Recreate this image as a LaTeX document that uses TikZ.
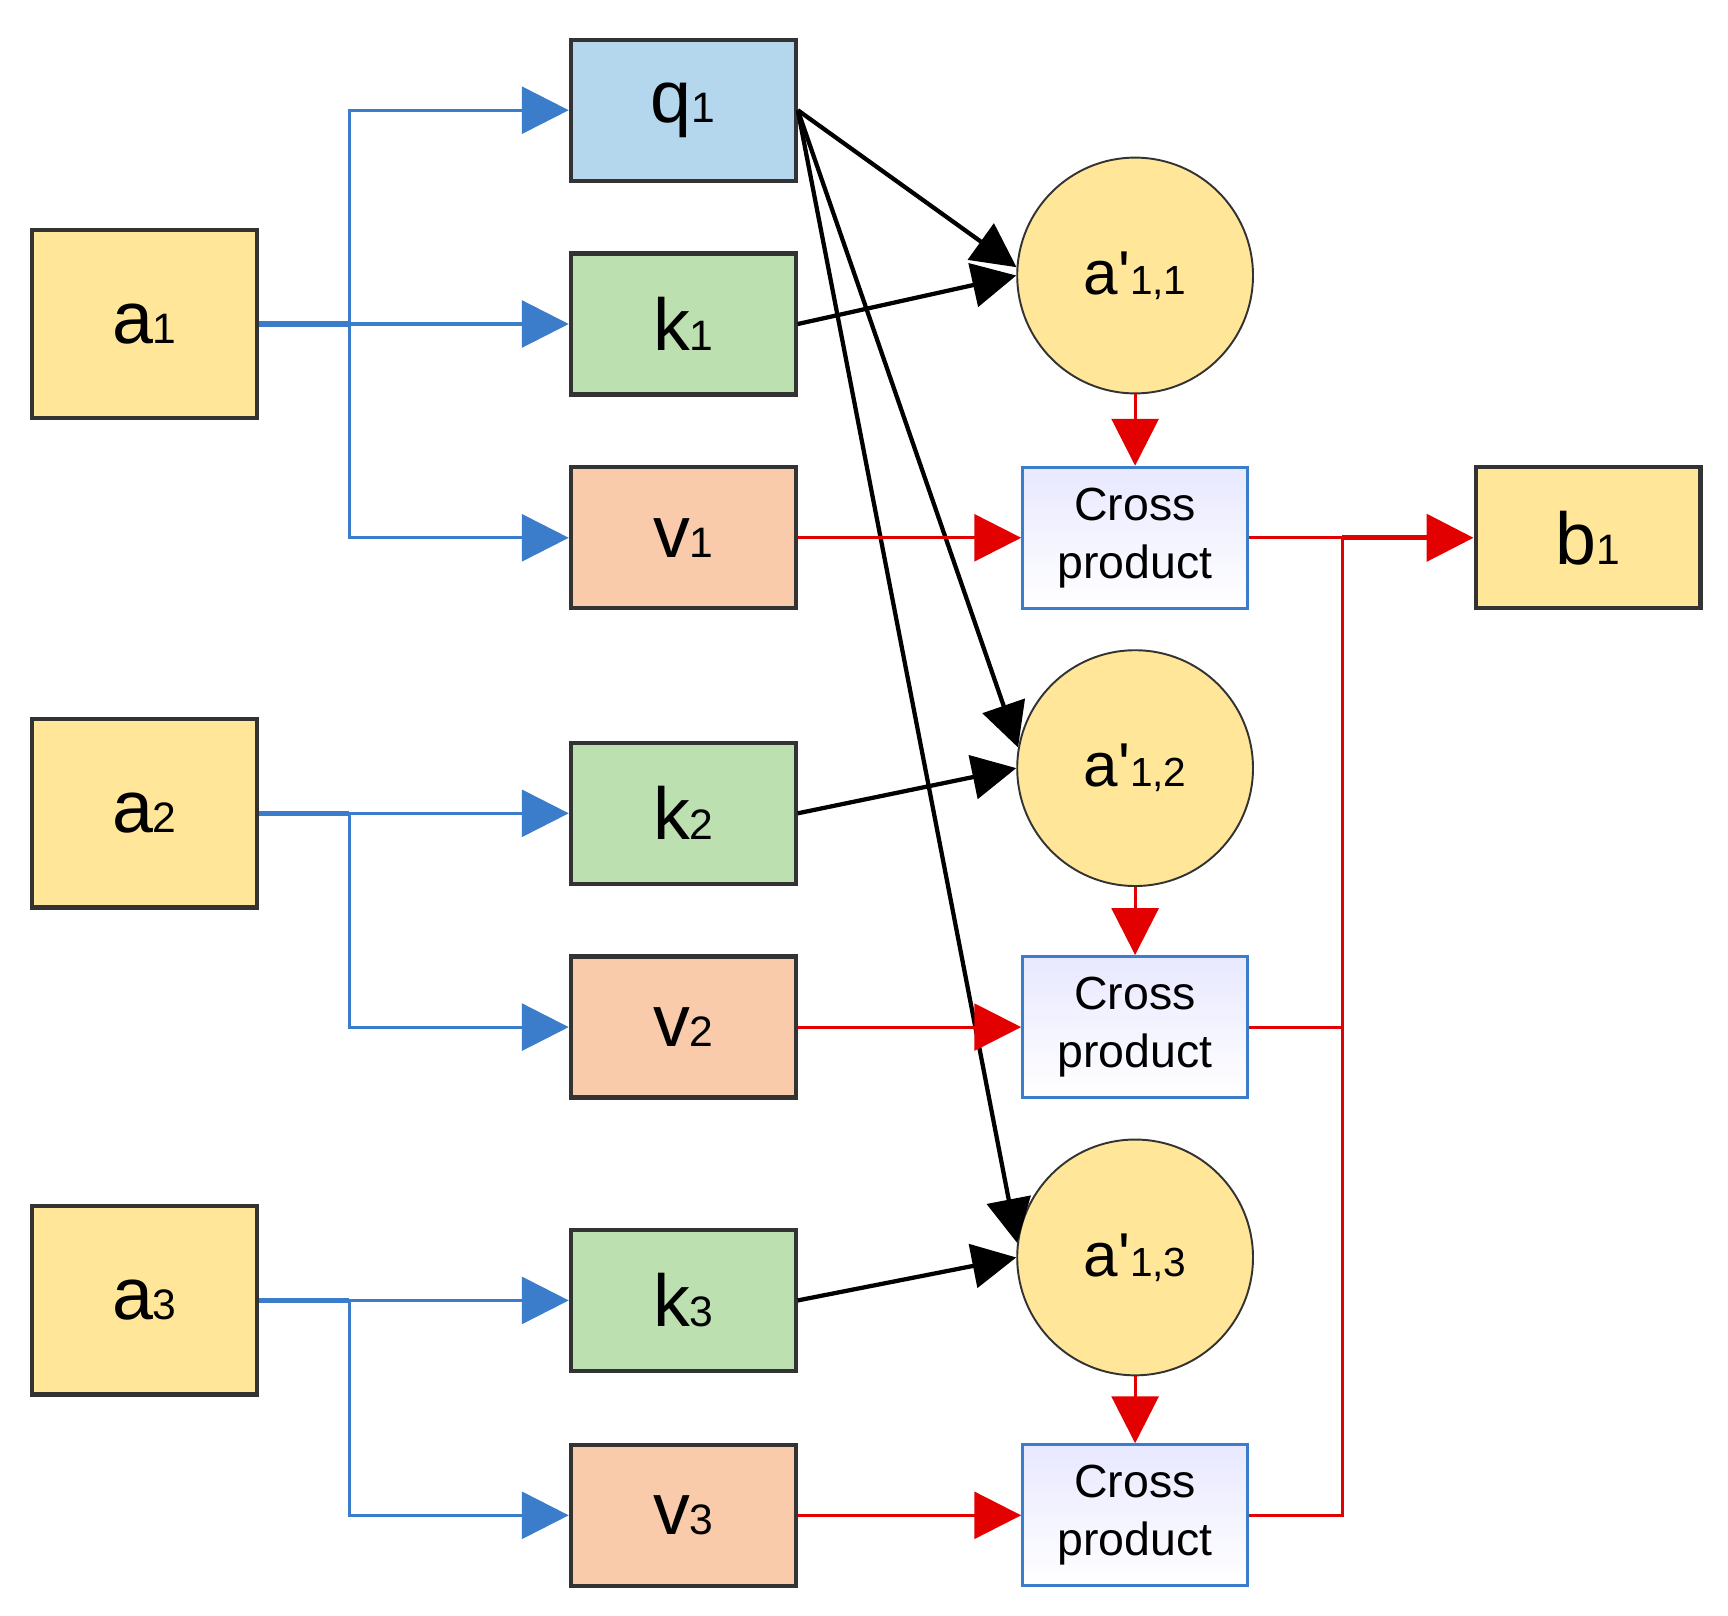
\documentclass[tikz,border=0pt]{standalone}
\usepackage{fontspec}
\setmainfont{Liberation Sans}
\usetikzlibrary{arrows.meta}
\definecolor{yel}{HTML}{FFE699}
\definecolor{qb}{HTML}{B4D7EE}
\definecolor{kg}{HTML}{BDE0B0}
\definecolor{vo}{HTML}{F9CBAA}
\definecolor{bl}{HTML}{3B7DCA}
\definecolor{rd}{HTML}{E30000}
\definecolor{bd}{HTML}{333333}
\newcommand{\lab}[2]{{\fontsize{38}{40}\selectfont #1}{\fontsize{22}{24}\selectfont #2}}
\newcommand{\clab}[1]{{\fontsize{32}{36}\selectfont a\textquotesingle}{\fontsize{21}{24}\selectfont #1}}
\begin{document}
\begin{tikzpicture}[x=0.02cm,y=-0.02cm,
 box/.style={draw=bd,line width=2.2pt,minimum width=4.08cm,minimum height=2.56cm,inner sep=0},
 abox/.style={box,fill=yel,minimum height=3.42cm},
 circ/.style={circle,draw=bd,line width=1pt,fill=yel,minimum size=4.28cm,inner sep=0},
 cp/.style={draw=bl,line width=1.6pt,top color=blue!9,bottom color=white,minimum width=4.08cm,minimum height=2.56cm,align=center,font=\fontsize{24}{30}\selectfont},
 bA/.style={draw=bl,line width=1.6pt,-{Triangle[length=0.85cm,width=0.85cm]}},
 kA/.style={draw=black,line width=2.2pt,-{Triangle[length=0.8cm,width=0.8cm]}},
 rA/.style={draw=rd,line width=1.6pt,-{Triangle[length=0.85cm,width=0.85cm]}}]
\useasboundingbox (0,0) rectangle (1568,1466);
\node[abox] (a1) at (131,294) {\lab{a}{1}};
\node[abox] (a2) at (131,738) {\lab{a}{2}};
\node[abox] (a3) at (131,1180) {\lab{a}{3}};
\node[box,fill=qb] (q1) at (620,100) {\lab{q}{1}};
\node[box,fill=kg] (k1) at (620,294) {\lab{k}{1}};
\node[box,fill=vo] (v1) at (620,488) {\lab{v}{1}};
\node[box,fill=kg] (k2) at (620,738) {\lab{k}{2}};
\node[box,fill=vo] (v2) at (620,932) {\lab{v}{2}};
\node[box,fill=kg] (k3) at (620,1180) {\lab{k}{3}};
\node[box,fill=vo] (v3) at (620,1375) {\lab{v}{3}};
\node[circ] (c1) at (1030,250) {\clab{1,1}};
\node[circ] (c2) at (1030,697) {\clab{1,2}};
\node[circ] (c3) at (1030,1141) {\clab{1,3}};
\node[cp] (p1) at (1030,488) {Cross\\product};
\node[cp] (p2) at (1030,932) {Cross\\product};
\node[cp] (p3) at (1030,1375) {Cross\\product};
\node[abox,minimum height=2.56cm] (b1) at (1441,488) {\lab{b}{1}};
\coordinate (s1) at (317,294);
\coordinate (s2) at (317,738);
\coordinate (s3) at (317,1180);
\coordinate (r1) at (1218,488);
% blue
\draw[bl,line width=2.6pt] (a1.east) -- (s1);
\draw[bA] (s1) |- (q1.west);
\draw[bA] (s1) -- (k1.west);
\draw[bA] (s1) |- (v1.west);
\draw[bl,line width=2.6pt] (a2.east) -- (s2);
\draw[bA] (s2) -- (k2.west);
\draw[bA] (s2) |- (v2.west);
\draw[bl,line width=2.6pt] (a3.east) -- (s3);
\draw[bA] (s3) -- (k3.west);
\draw[bA] (s3) |- (v3.west);
% black
\draw[kA] (q1.east) -- (c1.176);
\draw[kA] (q1.east) -- (c2.170);
\draw[kA] (q1.east) -- (c3.173);
\draw[kA] (k1.east) -- (c1.west);
\draw[kA] (k2.east) -- (c2.west);
\draw[kA] (k3.east) -- (c3.west);
% red
\draw[rA] (c1.south) -- (p1.north);
\draw[rA] (c2.south) -- (p2.north);
\draw[rA] (c3.south) -- (p3.north);
\draw[rA] (v1.east) -- (p1.west);
\draw[rA] (v2.east) -- (p2.west);
\draw[rA] (v3.east) -- (p3.west);
\draw[rd,line width=1.6pt] (p1.east) -- (r1);
\draw[rd,line width=1.6pt] (p2.east) -| (r1);
\draw[rd,line width=1.6pt] (p3.east) -| (r1);
\draw[rA,line width=2.4pt] (r1) -- (b1.west);
\end{tikzpicture}
\end{document}
